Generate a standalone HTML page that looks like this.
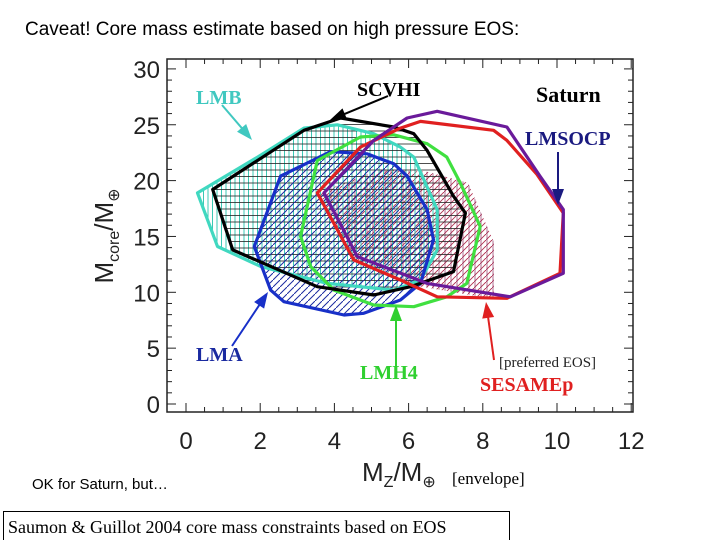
<!DOCTYPE html>
<html><head><meta charset="utf-8"><style>
body{margin:0;background:#fff;}
svg text{font-family:"Liberation Sans",Arial,sans-serif;}
.s{font-family:"Liberation Serif","Times New Roman",serif;font-weight:bold;}
</style></head><body>
<svg id="c" width="720" height="540" viewBox="0 0 720 540" xmlns="http://www.w3.org/2000/svg">
<defs>
<pattern id="pv" width="4.5" height="10" patternUnits="userSpaceOnUse"><line x1="1" y1="0" x2="1" y2="10" stroke="#3cc8b4" stroke-width="1"/></pattern>
<pattern id="ph" width="10" height="6.5" patternUnits="userSpaceOnUse"><line x1="0" y1="1" x2="10" y2="1" stroke="#222" stroke-width="1"/></pattern>
<pattern id="pd" width="7" height="7" patternUnits="userSpaceOnUse"><line x1="0" y1="7" x2="7" y2="0" stroke="#1a2aa0" stroke-width="1"/></pattern>
<pattern id="pr" width="6" height="6" patternUnits="userSpaceOnUse"><line x1="0" y1="6" x2="6" y2="0" stroke="#b03050" stroke-width="0.9"/><line x1="1" y1="0" x2="1" y2="6" stroke="#903060" stroke-width="0.7"/></pattern>
</defs>
<text x="25" y="35" font-size="19">Caveat! Core mass estimate based on high pressure EOS:</text>
<g id="plot"></g>
<text x="32" y="489" font-size="15">OK for Saturn, but…</text>
<text x="452" y="484" font-size="17" style="font-family:'Liberation Serif',serif">[envelope]</text>
<rect x="3.5" y="511.5" width="506" height="30" fill="#fff" stroke="#000"/>
<text x="8" y="533" font-size="18" style="font-family:'Liberation Serif',serif">Saumon &amp; Guillot 2004 core mass constraints based on EOS</text>
</svg>
<script>
const xTicks=[0,2,4,6,8,10,12];
const yTicks=[0,5,10,15,20,25,30];
const seriesNames=["LMB","SCVHI","LMA","LMH4","SESAMEp","LMSOCP"];
const lmbX=[0.31,0.85,2.02,3.81,5.6,6.32,6.77,6.77,6.14,5.78,5.06,4.08,3.18,1.93];
const lmbY=[18.9,14.1,12.3,10.8,10.2,11.1,13.8,17.4,22.1,23.0,24.2,25.0,24.7,22.1];
const scvhiX=[0.72,1.26,3.54,5.06,6.05,7.21,7.53,7.21,6.5,6.14,5.6,4.17,3.18];
const scvhiY=[19.2,13.8,10.5,9.76,10.5,11.85,17.1,18.6,22.7,24.2,24.8,25.6,24.5];
const lmaX=[1.84,2.28,2.64,4.26,4.79,5.78,6.32,6.67,6.5,5.96,5.6,4.88,3.9,2.55];
const lmaY=[14.1,10.2,9.16,7.97,8.12,9.31,10.8,14.7,17.4,20.4,21.5,22.4,22.6,20.4];
const lmh4X=[3.09,3.36,3.99,5.06,6.14,7.03,7.57,7.93,7.39,7.03,6.5,5.6,4.7,3.54];
const lmh4Y=[15.0,12.3,10.2,8.86,8.71,9.6,10.8,15.9,19.8,22.1,23.3,24.1,23.9,21.8];
const sesX=[3.54,4.52,5.78,6.77,8.65,10.08,10.17,9.45,8.65,8.29,6.32,5.78,4.7];
const sesY=[18.9,12.9,11.1,9.6,9.46,11.7,17.1,20.6,23.6,24.5,25.3,24.7,23.0];
const socpX=[3.72,4.62,6.5,8.74,10.17,10.17,9.54,8.65,6.77,5.96,5.06];
const socpY=[18.9,13.2,10.8,9.6,11.7,17.4,20.4,24.8,26.2,25.6,23.6];
const hatchX=[3.6,4.5,6.0,8.3,8.3,7.6,6.5,5.2];
const hatchY=[18.9,13.0,10.7,9.4,14.5,19.8,20.8,21.0];

const X0=186,XS=37.1,Y0=404,YS=11.17;
const sx=v=>X0+v*XS, sy=v=>Y0-v*YS;
const NS="http://www.w3.org/2000/svg";
const g=document.getElementById('plot');
function mk(t,a){const e=document.createElementNS(NS,t);for(const k in a)e.setAttribute(k,a[k]);g.appendChild(e);return e;}
function pts(xs,ys){return xs.map((x,i)=>sx(x).toFixed(1)+","+sy(ys[i]).toFixed(1)).join(" ");}

let fr=mk('rect',{x:167,y:59,width:466,height:353,fill:'none',stroke:'#222','stroke-width':1.5});


for(let v=0;v<=12.01;v+=0.5){const major=Math.abs(v-Math.round(v/2)*2)<0.01;
 const l1=mk('line',{x1:sx(v),x2:sx(v),y1:412,y2:412-(major?9:5),stroke:'#222'});
 
 
 const l2=mk('line',{x1:sx(v),x2:sx(v),y1:59,y2:59+(major?9:5),stroke:'#222'});
 
 }
for(let v=0;v<=30;v++){const major=v%5===0;
 const l1=mk('line',{x1:167,x2:167+(major?9:5),y1:sy(v),y2:sy(v),stroke:'#222'});
 
 
 const l2=mk('line',{x1:633,x2:633-(major?9:5),y1:sy(v),y2:sy(v),stroke:'#222'});
 
 }
xTicks.forEach(v=>{const t=mk('text',{x:sx(v),y:449,'font-size':24,'text-anchor':'middle',fill:'#222'});t.textContent=v;
 
 });
yTicks.forEach(v=>{const t=mk('text',{x:160,y:sy(v)+9,'font-size':24,'text-anchor':'end',fill:'#222'});t.textContent=v;
 
 });
const yt=mk('text',{transform:'translate(113,236) rotate(-90)','font-size':26,'text-anchor':'middle',fill:'#222'});
yt.innerHTML='M<tspan font-size="16" dy="6">core</tspan><tspan dy="-6">/M</tspan><tspan font-size="16" dy="6">⊕</tspan>';


const xt=mk('text',{x:362,y:481,'font-size':26,fill:'#222'});
xt.innerHTML='M<tspan font-size="16" dy="6">Z</tspan><tspan dy="-6">/M</tspan><tspan font-size="16" dy="6">⊕</tspan>';



let h;
h=mk('polygon',{points:pts(hatchX,hatchY),fill:'url(#pr)'});


h=mk('polygon',{points:pts(lmbX,lmbY),fill:'url(#pv)'});


h=mk('polygon',{points:pts(scvhiX,scvhiY),fill:'url(#ph)',opacity:0.8});


h=mk('polygon',{points:pts(lmaX,lmaY),fill:'url(#pd)'});



const outlines=[[lmbX,lmbY,'#40d8c0','lmb-outline'],[lmaX,lmaY,'#1830c8','lma-outline'],[lmh4X,lmh4Y,'#40e040','lmh4-outline'],[scvhiX,scvhiY,'#000','scvhi-outline'],[sesX,sesY,'#e02020','sesamep-outline'],[socpX,socpY,'#6a1a9a','lmsocp-outline']];
outlines.forEach(o=>{const p=mk('polygon',{points:pts(o[0],o[1]),fill:'none',stroke:o[2],'stroke-width':3.2,'stroke-linejoin':'round'});
 
 });

const labels=[["LMB",196,104,'#40c8c0',20],["SCVHI",357,96,'#000',20],["Saturn",536,102,'#000',22],["LMSOCP",525,145,'#1a1a80',20],["LMA",196,361,'#1a2aa0',20],["LMH4",360,379,'#30d030',20],["SESAMEp",480,391,'#e02020',20]];
labels.forEach(l=>{const t=mk('text',{x:l[1],y:l[2],fill:l[3],'font-size':l[4],class:'s'});t.textContent=l[0];
 
 });
const pe=mk('text',{x:499,y:367,'font-size':15,fill:'#222',style:"font-family:'Liberation Serif',serif"});pe.textContent='[preferred EOS]';


const arrows=[[222,105,252,140,'#40c8c0'],[388,96,330,120,'#000'],[558,152,558,205,'#1a1a80'],[232,346,268,292,'#1830c8'],[396,372,396,305,'#30d030'],[494,360,486,302,'#e02020']];
arrows.forEach(a=>{const [x1,y1,x2,y2,c]=a;const ang=Math.atan2(y2-y1,x2-x1);
 const l=mk('line',{x1,y1,x2:x2-10*Math.cos(ang),y2:y2-10*Math.sin(ang),stroke:c,'stroke-width':2});
 
 
 const L=16,W=6;const bx=x2-L*Math.cos(ang),by=y2-L*Math.sin(ang);
 const hd=mk('polygon',{points:`${x2},${y2} ${bx-W*Math.sin(ang)},${by+W*Math.cos(ang)} ${bx+W*Math.sin(ang)},${by-W*Math.cos(ang)}`,fill:c});
 
 });
</script>
</body></html>
